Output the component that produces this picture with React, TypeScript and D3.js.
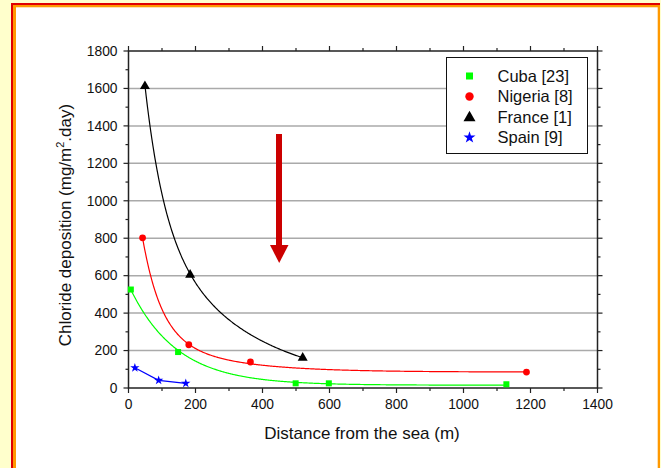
import React from "react";
import * as d3 from "d3";

// ---- data ----
const cubaX = [7, 148, 499, 598, 1128];
const cubaY = [526, 192, 25, 25, 20];
const nigeriaX = [42, 180, 364, 1188];
const nigeriaY = [802, 231, 139, 85];
const franceX = [49, 184, 520];
const franceY = [1615, 608, 164];
const spainX = [19, 90, 171];
const spainY = [108, 41, 25];

// exponential-decay fit parameters: [y0, A1, t1, A2, t2]
const cubaFit = [15, 536, 140, 0, 1];
const nigeriaFit = [85, 1077, 55, 265, 200];
const franceFit = [0, 1743, 58, 1035, 280];

const xTicks = [0, 200, 400, 600, 800, 1000, 1200, 1400];
const yTicks = [0, 200, 400, 600, 800, 1000, 1200, 1400, 1600, 1800];
const legendLabels = ["Cuba [23]", "Nigeria [8]", "France [1]", "Spain [9]"];

const W = 661;
const H = 468;
const FONT = "'Liberation Sans', Arial, sans-serif";

const x = d3.scaleLinear().domain([0, 1400]).range([128.5, 597.5]);
const y = d3.scaleLinear().domain([0, 1800]).range([388, 51]);

const GREEN = "#00ff00";
const RED = "#ff0000";
const BLACK = "#000000";
const BLUE = "#0000ff";

function fitPath(p: number[], x0: number, x1: number) {
  const f = (v: number) => p[0] + p[1] * Math.exp(-v / p[2]) + p[3] * Math.exp(-v / p[4]);
  const xs = d3.range(x0, x1, 2).concat([x1]);
  return d3
    .line<number>()
    .x((v) => x(v))
    .y((v) => y(f(v)))(xs) as string;
}

const Square = ({ cx, cy, s }: { cx: number; cy: number; s: number }) => (
  <rect x={cx - s / 2} y={cy - s / 2} width={s} height={s} fill={GREEN} />
);
const Tri = ({ cx, cy, w }: { cx: number; cy: number; w: number }) => {
  const h = w * 0.87;
  return (
    <path
      d={`M${cx},${cy - h * 0.6}L${cx + w / 2},${cy + h * 0.4}L${cx - w / 2},${cy + h * 0.4}Z`}
      fill={BLACK}
    />
  );
};
const Star = ({ cx, cy, size }: { cx: number; cy: number; size: number }) => (
  <path d={d3.symbol(d3.symbolStar, size)() as string} transform={`translate(${cx},${cy})`} fill={BLUE} />
);

export default function App() {
  const minorY = d3.range(100, 1800, 200);
  const minorX = d3.range(100, 1400, 200);
  const spainLine = d3
    .line<number>()
    .x((_, i) => x(spainX[i]))
    .y((_, i) => y(spainY[i]))(spainX) as string;
  const legendY = [76, 96.5, 117, 137.5];

  return (
    <div style={{ position: "fixed", left: 0, top: 0, width: W, height: H }}>
      <svg width={W} height={H} style={{ display: "block" }} fontFamily={FONT}>
        <rect x={0} y={0} width={W} height={H} fill="#ffffcc" />
        <rect x={11} y={3} width={649} height={500} fill="#e00000" />
        <rect x={13} y={5} width={647} height={500} fill="#ff9900" />
        <rect x={16} y={7.3} width={641.7} height={500} fill="#ffffff" />

        {/* grid */}
        {yTicks.slice(1, -1).map((t) => (
          <line key={"g" + t} x1={x(0)} x2={x(1400)} y1={y(t)} y2={y(t)} stroke="#aaaaaa" strokeWidth={1.5} />
        ))}

        {/* frame */}
        <rect x={x(0)} y={y(1800)} width={x(1400) - x(0)} height={y(0) - y(1800)} fill="none" stroke="#222" strokeWidth={1.5} />

        {/* y ticks left & right */}
        {yTicks.map((t) => (
          <g key={"yt" + t}>
            <line x1={x(0) - 5} x2={x(0)} y1={y(t)} y2={y(t)} stroke="#222" strokeWidth={1.2} />
            <line x1={x(1400)} x2={x(1400) + 5} y1={y(t)} y2={y(t)} stroke="#222" strokeWidth={1.2} />
            <text x={x(0) - 11} y={y(t)} dy="0.35em" textAnchor="end" fontSize={13.8} fill="#111">
              {t}
            </text>
          </g>
        ))}
        {minorY.map((t) => (
          <g key={"ym" + t}>
            <line x1={x(0) - 3} x2={x(0)} y1={y(t)} y2={y(t)} stroke="#222" strokeWidth={1.2} />
            <line x1={x(1400)} x2={x(1400) + 3} y1={y(t)} y2={y(t)} stroke="#222" strokeWidth={1.2} />
          </g>
        ))}

        {/* x ticks bottom & top */}
        {xTicks.map((t) => (
          <g key={"xt" + t}>
            <line x1={x(t)} x2={x(t)} y1={y(0)} y2={y(0) + 5} stroke="#222" strokeWidth={1.2} />
            <line x1={x(t)} x2={x(t)} y1={y(1800) - 5} y2={y(1800)} stroke="#222" strokeWidth={1.2} />
            <text x={x(t)} y={y(0) + 21} textAnchor="middle" fontSize={13.8} fill="#111">
              {t}
            </text>
          </g>
        ))}
        {minorX.map((t) => (
          <g key={"xm" + t}>
            <line x1={x(t)} x2={x(t)} y1={y(0)} y2={y(0) + 3} stroke="#222" strokeWidth={1.2} />
            <line x1={x(t)} x2={x(t)} y1={y(1800) - 3} y2={y(1800)} stroke="#222" strokeWidth={1.2} />
          </g>
        ))}

        {/* axis titles */}
        <text x={362} y={439} textAnchor="middle" fontSize={17} fill="#111">
          Distance from the sea (m)
        </text>
        <text transform="translate(71,225) rotate(-90)" textAnchor="middle" fontSize={17} fill="#111">
          Chloride deposition (mg/m
          <tspan dy={-7} fontSize={11}>2</tspan>
          <tspan dy={7}>.day)</tspan>
        </text>

        {/* fit curves */}
        <path d={fitPath(cubaFit, cubaX[0], cubaX[cubaX.length - 1])} fill="none" stroke={GREEN} strokeWidth={1.2} />
        <path d={fitPath(nigeriaFit, nigeriaX[0], nigeriaX[nigeriaX.length - 1])} fill="none" stroke={RED} strokeWidth={1.2} />
        <path d={fitPath(franceFit, franceX[0], franceX[franceX.length - 1])} fill="none" stroke={BLACK} strokeWidth={1.2} />
        <path d={spainLine} fill="none" stroke={BLUE} strokeWidth={1.2} />

        {/* markers */}
        {cubaX.map((v, i) => (
          <Square key={"c" + i} cx={x(v)} cy={y(cubaY[i])} s={6} />
        ))}
        {nigeriaX.map((v, i) => (
          <circle key={"n" + i} cx={x(v)} cy={y(nigeriaY[i])} r={3.4} fill={RED} />
        ))}
        {franceX.map((v, i) => (
          <Tri key={"f" + i} cx={x(v)} cy={y(franceY[i])} w={10} />
        ))}
        {spainX.map((v, i) => (
          <Star key={"s" + i} cx={x(v)} cy={y(spainY[i])} size={27} />
        ))}

        {/* arrow */}
        <rect x={276} y={134} width={6} height={112} fill="#cc0000" />
        <path d="M270,245L288.5,245L279.2,263Z" fill="#cc0000" />

        {/* legend */}
        <rect x={446.5} y={57.5} width={141} height={96} fill="#ffffff" stroke="#111" strokeWidth={1} />
        <Square cx={469.5} cy={legendY[0]} s={7} />
        <circle cx={469.5} cy={legendY[1]} r={4.2} fill={RED} />
        <Tri cx={469.5} cy={legendY[2]} w={12} />
        <Star cx={469.5} cy={legendY[3]} size={45} />
        {legendLabels.map((l, i) => (
          <text key={l} x={497.5} y={legendY[i]} dy="0.36em" fontSize={16.5} fill="#111">
            {l}
          </text>
        ))}
      </svg>
    </div>
  );
}
